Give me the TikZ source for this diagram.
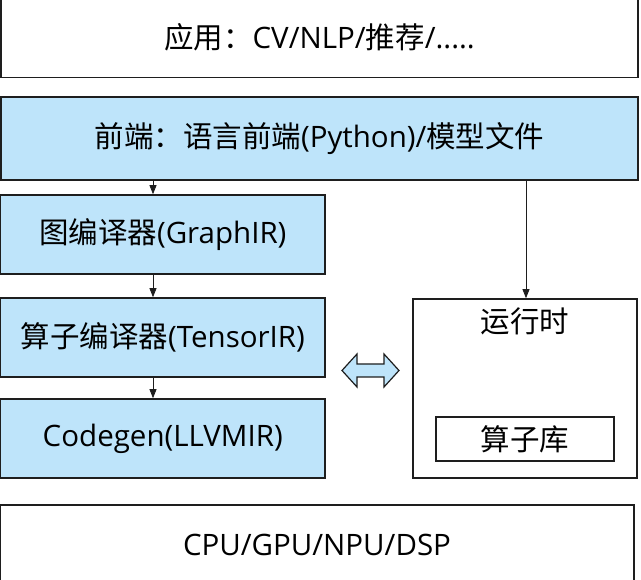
\documentclass[tikz,border=0pt]{standalone}
\usepackage{fontspec}
\setmainfont{Noto Sans CJK SC}
\newfontfamily\lat{Open Sans}
\usetikzlibrary{arrows.meta}
\definecolor{lblue}{RGB}{190,228,250}
\definecolor{edge}{RGB}{30,30,30}
\begin{document}
\begin{tikzpicture}[x=1pt,y=-1pt,
  box/.style={draw=edge, line width=1.6pt, inner sep=0pt, font=\fontsize{29.5}{34}\selectfont, anchor=center},
  bluebox/.style={box, fill=lblue},
  conn/.style={draw=edge, line width=0.8pt, -{Triangle[length=9pt,width=7pt]}}]
\useasboundingbox (0,0) rectangle (641,580);
\fill[white] (0,0) rectangle (641,580);
\node[box, minimum width=637pt, minimum height=81pt] (app) at (319.5,37) {应用：{\lat CV/NLP/}推荐{\lat /.....}};
\node[bluebox, minimum width=637pt, minimum height=83pt] (front) at (319.5,138.5) {前端：语言前端{\lat (Python)/}模型文件};
\node[bluebox, minimum width=324.5pt, minimum height=79pt] (graph) at (162.75,234.5) {图编译器{\lat (GraphIR)}};
\node[bluebox, minimum width=324.5pt, minimum height=79pt] (op) at (162.75,337.5) {算子编译器{\lat (TensorIR)}};
\node[bluebox, minimum width=324.5pt, minimum height=79pt] (cg) at (162.75,438.5) {\lat Codegen(LLVMIR)};
\node[box, minimum width=224pt, minimum height=179pt,
  label={[anchor=north, yshift=-6pt, font=\fontsize{29.5}{34}\selectfont]north:运行时}] (rt) at (525,388.5) {};
\node[box, line width=1.4pt, minimum width=178pt, minimum height=44pt] (lib) at (525,439) {算子库};
\node[box, minimum width=634pt, minimum height=80pt] (hw) at (317,545) {\lat CPU/GPU/NPU/DSP};
\coordinate (da) at (370.5,370.5);
\draw[conn] (153,0 |- front.south) -- (153,0 |- graph.north);
\draw[conn] (153,0 |- graph.south) -- (153,0 |- op.north);
\draw[conn] (153,0 |- op.south) -- (153,0 |- cg.north);
\draw[conn] (526,0 |- front.south) -- (526,0 |- rt.north);
\draw[draw=edge, fill=lblue, line width=1.2pt, line join=miter]
  ([xshift=-28.5pt]da) -- ++(15,-16.5) -- ++(0,10) -- ++(27,0) -- ++(0,-10)
  -- ++(15,16.5) -- ++(-15,16.5) -- ++(0,-10) -- ++(-27,0) -- ++(0,10) -- cycle;
\end{tikzpicture}
\end{document}
